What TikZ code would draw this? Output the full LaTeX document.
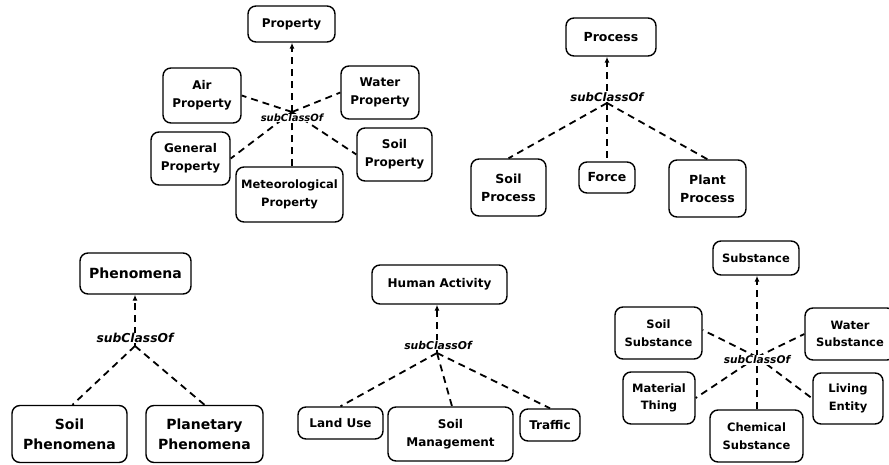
\documentclass[tikz,border=0pt]{standalone}
\usepackage{fontspec}
\setmainfont{DejaVu Sans}
\usetikzlibrary{arrows.meta}
\newcommand\fsz[2]{\fontsize{#1pt}{#2pt}\selectfont\bfseries}
\tikzset{
  cls/.style={draw, rounded corners=8pt, line width=1.4pt, align=center, inner sep=0pt},
  rel/.style={line width=1.8pt, dash pattern=on 7pt off 5pt},
  sub/.style={rel, -{Latex[length=6pt,width=5pt]}},
  lbl/.style={fill=white, inner sep=0.6pt}
}
\begin{document}
\begin{tikzpicture}[x=1pt,y=-1pt]
\useasboundingbox (0,0) rectangle (889,464);
% ---------- Property ----------
\begin{scope}[every node/.append style={font=\fsz{12}{18}}]
\node[cls,minimum width=87pt,minimum height=36pt] (prop) at (291.5,24) {Property};
\node[cls,minimum width=78pt,minimum height=55pt] (air) at (202,95.5) {Air\\Property};
\node[cls,minimum width=79pt,minimum height=53pt] (gen) at (190.5,158.5) {General\\Property};
\node[cls,minimum width=78pt,minimum height=53pt] (wat) at (380,92.5) {Water\\Property};
\node[cls,minimum width=75pt,minimum height=53pt] (soilp) at (394.5,154.5) {Soil\\Property};
\node[cls,minimum width=107pt,minimum height=55pt,font=\fsz{11.5}{18}] (met) at (289.5,194.5) {Meteorological\\Property};
\end{scope}
\coordinate (h1) at (292,112);
\draw[sub] (h1) -- (h1 |- prop.south);
\draw[rel] (h1) -- (air.east);
\draw[rel] (h1) -- (gen.east);
\draw[rel] (h1) -- (wat.west);
\draw[rel] (h1) -- (soilp.west);
\draw[rel] (h1 |- met.north) -- (h1);
\node[lbl,font=\fsz{10}{12}\itshape] (l1) at (292,118) {subClassOf};
% ---------- Process ----------
\begin{scope}[every node/.append style={font=\fsz{12.5}{18}}]
\node[cls,minimum width=90pt,minimum height=38pt] (proc) at (611,37) {Process};
\node[cls,minimum width=75pt,minimum height=57pt] (sproc) at (508.5,187.5) {Soil\\Process};
\node[cls,minimum width=56pt,minimum height=31pt] (force) at (607,177.5) {Force};
\node[cls,minimum width=77pt,minimum height=57pt] (pproc) at (707.5,188.5) {Plant\\Process};
\end{scope}
\coordinate (h2) at (607,103);
\draw[sub] (h2) -- (h2 |- proc.south);
\draw[rel] (h2) -- (sproc.north);
\draw[rel] (h2) -- (h2 |- force.north);
\draw[rel] (h2) -- (pproc.north);
\node[lbl,font=\fsz{11.7}{13}\itshape] (l2) at (607,97) {subClassOf};
% ---------- Phenomena ----------
\begin{scope}[every node/.append style={font=\fsz{14}{20}}]
\node[cls,minimum width=111pt,minimum height=41pt] (phen) at (135.5,273.5) {Phenomena};
\node[cls,minimum width=115pt,minimum height=57pt] (sphen) at (69.5,434) {Soil\\Phenomena};
\node[cls,minimum width=117pt,minimum height=57pt] (pphen) at (204.5,434) {Planetary\\Phenomena};
\end{scope}
\coordinate (h3) at (135,346);
\draw[sub] (h3) -- (h3 |- phen.south);
\draw[rel] (h3) -- ([xshift=3pt]sphen.north);
\draw[rel] (h3) -- (pphen.north);
\node[lbl,font=\fsz{12.3}{14}\itshape] (l3) at (135,338) {subClassOf};
% ---------- Human Activity ----------
\begin{scope}[every node/.append style={font=\fsz{12}{18}}]
\node[cls,minimum width=135pt,minimum height=39pt] (hum) at (439.5,284.5) {Human Activity};
\node[cls,minimum width=85pt,minimum height=32pt] (land) at (340.5,423) {Land Use};
\node[cls,minimum width=125pt,minimum height=54pt] (smgmt) at (450.5,434) {Soil\\Management};
\node[cls,minimum width=60pt,minimum height=32pt] (traf) at (550,425) {Traffic};
\end{scope}
\coordinate (h4) at (437,353);
\draw[sub] (h4) -- (h4 |- hum.south);
\draw[rel] (h4) -- (land.north);
\draw[rel] (h4) -- ([xshift=1.5pt]smgmt.north);
\draw[rel] (h4) -- (traf.north);
\node[lbl,font=\fsz{10.8}{12}\itshape] (l4) at (438,345) {subClassOf};
% ---------- Substance ----------
\begin{scope}[every node/.append style={font=\fsz{11.5}{17.5}}]
\node[cls,minimum width=86pt,minimum height=34pt] (subst) at (756,258) {Substance};
\node[cls,minimum width=87pt,minimum height=52pt] (ssub) at (658.5,333) {Soil\\Substance};
\node[cls,minimum width=90pt,minimum height=52pt] (wsub) at (850,334) {Water\\Substance};
\node[cls,minimum width=72pt,minimum height=52pt] (mat) at (659,398) {Material\\Thing};
\node[cls,minimum width=70pt,minimum height=51pt] (liv) at (848,398.5) {Living\\Entity};
\node[cls,minimum width=93pt,minimum height=52pt] (chem) at (756.5,436) {Chemical\\Substance};
\end{scope}
\coordinate (h5) at (757,357);
\draw[sub] (h5) -- (h5 |- subst.south);
\draw[rel] (h5) -- ([yshift=3pt]ssub.east);
\draw[rel] (h5) -- (wsub.west);
\draw[rel] (h5) -- (mat.east);
\draw[rel] (h5) -- (liv.west);
\draw[rel] (h5 |- chem.north) -- (h5);
\node[lbl,font=\fsz{10.6}{12}\itshape] (l5) at (757,360) {subClassOf};
\end{tikzpicture}
\end{document}
